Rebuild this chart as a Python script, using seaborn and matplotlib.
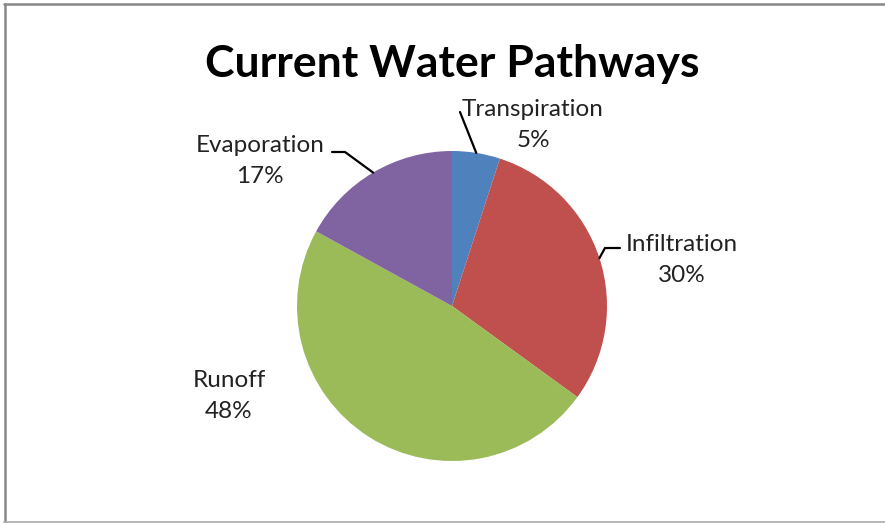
import numpy as np
import matplotlib
matplotlib.use("Agg")
import matplotlib.pyplot as plt
import seaborn as sns
from matplotlib.lines import Line2D

categories = ["Transpiration", "Infiltration", "Runoff", "Evaporation"]
values = [5, 30, 48, 17]
colors = ["#4F81BD", "#C0504D", "#9BBB59", "#8064A2"]
title = "Current Water Pathways"

sns.set_theme(style="white")
plt.rcParams['font.family'] = ['Lato', 'DejaVu Sans']

W, H = 885, 523
fig = plt.figure(figsize=(W / 100, H / 100), dpi=100)
fig.patch.set_facecolor("white")

cx, cy, R = 452, 306, 155
ax = fig.add_axes([(cx - R) / W, (H - cy - R) / H, 2 * R / W, 2 * R / H])
wedges, _ = ax.pie(values, colors=colors, startangle=90, counterclock=False,
                   radius=1.0, wedgeprops=dict(linewidth=0))
ax.set_xlim(-1, 1)
ax.set_ylim(-1, 1)
ax.set_aspect("equal")
ax.axis("off")

def px2d(px, py):
    return ((px - cx) / R, (cy - py) / R)

def anchor(w):
    a = np.deg2rad((w.theta1 + w.theta2) / 2)
    return np.cos(a), np.sin(a)

# label positions (pixel centers of the two-line label)
label_pos = {
    "Transpiration": (533, 125),
    "Infiltration": (682, 260),
    "Runoff": (229, 396),
    "Evaporation": (260, 161),
}
# leader line elbows (pixels)
leaders = {
    "Transpiration": [(460, 112)],
    "Infiltration": [(620, 248), (605, 248)],
    "Evaporation": [(332, 152), (345, 152)],
}

for w, cat, v in zip(wedges, categories, values):
    lx, ly = px2d(*label_pos[cat])
    ax.text(lx, ly, f"{cat}\n{v}%", ha="center", va="center", fontsize=17.5,
            color="#222222", linespacing=1.6, clip_on=False)
    if cat in leaders:
        pts = [px2d(*p) for p in leaders[cat]] + [anchor(w)]
        xs, ys = zip(*pts)
        ax.add_line(Line2D(xs, ys, color="black", lw=1.6, clip_on=False))

fig.text(cx / W, 1 - 64 / H, title, ha="center", va="center",
         fontsize=32, fontweight="bold", color="black")

# frame
fig.add_artist(Line2D([4 / W, 1], [1 - 3.5 / H] * 2, color="#888888", lw=1.8))
fig.add_artist(Line2D([4.5 / W] * 2, [1 - 3.5 / H, 1.5 / H], color="#888888", lw=1.8))
fig.add_artist(Line2D([4 / W, 1], [1.5 / H] * 2, color="#aaaaaa", lw=1.2))

fig.savefig("out.png", dpi=100, facecolor="white")
